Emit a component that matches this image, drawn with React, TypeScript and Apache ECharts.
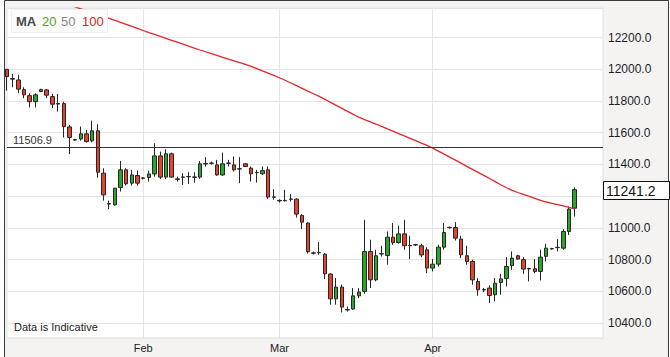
import React, { useEffect, useRef } from "react";
import * as echarts from "echarts";

// [open, close, low, high]
const candles: number[][] = [
  [12000, 11954, 11866, 12003],
  [11942, 11938, 11887, 11971],
  [11933, 11875, 11849, 11965],
  [11872, 11839, 11818, 11887],
  [11834, 11796, 11759, 11849],
  [11796, 11839, 11759, 11849],
  [11860, 11872, 11856, 11878],
  [11870, 11837, 11818, 11875],
  [11828, 11780, 11755, 11845],
  [11784, 11781, 11733, 11845],
  [11784, 11639, 11570, 11796],
  [11637, 11570, 11465, 11650],
  [11556, 11554, 11548, 11562],
  [11561, 11593, 11550, 11639],
  [11593, 11544, 11538, 11618],
  [11549, 11612, 11540, 11677],
  [11612, 11351, 11317, 11654],
  [11345, 11208, 11172, 11376],
  [11153, 11150, 11118, 11172],
  [11145, 11250, 11140, 11252],
  [11254, 11366, 11229, 11422],
  [11366, 11278, 11267, 11376],
  [11282, 11334, 11267, 11366],
  [11330, 11282, 11267, 11361],
  [11315, 11313, 11305, 11320],
  [11318, 11340, 11292, 11361],
  [11340, 11454, 11323, 11534],
  [11454, 11320, 11307, 11481],
  [11320, 11467, 11307, 11496],
  [11467, 11320, 11315, 11475],
  [11305, 11309, 11292, 11323],
  [11321, 11319, 11271, 11345],
  [11324, 11322, 11277, 11351],
  [11321, 11319, 11285, 11351],
  [11320, 11404, 11309, 11422],
  [11405, 11403, 11387, 11446],
  [11409, 11407, 11398, 11418],
  [11397, 11334, 11328, 11429],
  [11334, 11404, 11328, 11475],
  [11409, 11407, 11387, 11429],
  [11397, 11366, 11355, 11450],
  [11373, 11371, 11282, 11446],
  [11404, 11387, 11383, 11408],
  [11377, 11341, 11292, 11387],
  [11350, 11348, 11286, 11366],
  [11341, 11361, 11334, 11387],
  [11366, 11194, 11183, 11387],
  [11195, 11193, 11177, 11244],
  [11173, 11170, 11160, 11180],
  [11173, 11171, 11166, 11240],
  [11182, 11180, 11166, 11214],
  [11181, 11087, 11065, 11187],
  [11078, 11036, 10992, 11087],
  [11030, 10849, 10838, 11036],
  [10842, 10840, 10832, 10851],
  [10845, 10843, 10830, 10910],
  [10834, 10710, 10677, 10841],
  [10708, 10552, 10515, 10714],
  [10552, 10626, 10515, 10683],
  [10626, 10500, 10466, 10641],
  [10484, 10482, 10472, 10504],
  [10488, 10571, 10483, 10620],
  [10571, 10595, 10557, 10620],
  [10599, 10851, 10584, 11051],
  [10851, 10672, 10620, 10925],
  [10672, 10824, 10662, 10862],
  [10837, 10835, 10819, 10887],
  [10825, 10941, 10767, 10977],
  [10941, 10907, 10893, 11030],
  [10907, 10962, 10900, 11014],
  [10962, 10887, 10862, 11051],
  [10889, 10887, 10803, 10950],
  [10894, 10892, 10885, 10899],
  [10887, 10829, 10815, 10899],
  [10861, 10746, 10714, 10878],
  [10746, 10771, 10725, 10803],
  [10771, 10878, 10756, 10893],
  [10878, 10971, 10862, 11030],
  [11003, 11001, 10995, 11008],
  [11002, 10935, 10920, 11036],
  [10929, 10830, 10809, 10950],
  [10824, 10788, 10767, 10887],
  [10788, 10672, 10641, 10799],
  [10662, 10609, 10571, 10683],
  [10610, 10608, 10595, 10620],
  [10620, 10573, 10525, 10637],
  [10578, 10651, 10536, 10683],
  [10655, 10678, 10578, 10710],
  [10681, 10756, 10630, 10815],
  [10762, 10809, 10735, 10851],
  [10824, 10803, 10799, 10830],
  [10799, 10740, 10710, 10815],
  [10743, 10741, 10662, 10748],
  [10742, 10725, 10714, 10803],
  [10725, 10815, 10668, 10862],
  [10820, 10872, 10788, 10899],
  [10869, 10867, 10862, 10874],
  [10877, 10875, 10851, 10929],
  [10872, 10977, 10862, 10992],
  [10977, 11118, 10955, 11135],
  [11124, 11241.2, 11071, 11255],
];

const ma100: number[] = [
  12551, 12538, 12525, 12512, 12499, 12486, 12472, 12459, 12446, 12433,
  12420, 12407, 12394, 12381, 12370, 12359, 12348, 12335, 12322, 12309,
  12297, 12284, 12271, 12258, 12245, 12232, 12220, 12208, 12196, 12183,
  12171, 12159, 12147, 12134, 12122, 12111, 12099, 12088, 12076, 12065,
  12054, 12042, 12031, 12019, 12005, 11990, 11976, 11962, 11947, 11931,
  11914, 11897, 11880, 11863, 11846, 11829, 11811, 11792, 11773, 11754,
  11735, 11716, 11698, 11683, 11669, 11655, 11640, 11625, 11610, 11595,
  11580, 11565, 11550, 11535, 11520, 11503, 11484, 11465, 11446, 11427,
  11408, 11388, 11369, 11350, 11331, 11311, 11292, 11272, 11253, 11236,
  11223, 11211, 11198, 11186, 11173, 11163, 11155, 11147, 11139, 11129,
  11120,
];

const monthTicks: Record<number, string> = { 24: "Feb", 48: "Mar", 75: "Apr" };
const slotCount = 106;
const refLevel = 11506.9;
const lastPrice = 11241.2;
const legendItems = [
  { text: "MA", color: "#4a4a4a" },
  { text: "20", color: "#5f9e22" },
  { text: "50", color: "#8a8a8a" },
  { text: "100", color: "#d8251f" },
];
const footNote = "Data is Indicative";

const FONT = "'Liberation Sans', Arial, sans-serif";

export default function App() {
  const ref = useRef<HTMLDivElement>(null);

  useEffect(() => {
    if (!ref.current) return;
    const chart = echarts.init(ref.current, null, { renderer: "svg" });
    const cats = Array.from({ length: slotCount }, (_, i) => String(i));
    const isMonth = (i: number) => monthTicks[i] !== undefined;

    chart.setOption({
      animation: false,
      backgroundColor: "transparent",
      grid: {
        left: 7,
        top: 8,
        right: 67,
        bottom: 19,
        show: true,
        backgroundColor: "#ffffff",
        borderColor: "#e2e2e2",
        borderWidth: 1,
      },
      xAxis: {
        type: "category",
        data: cats,
        boundaryGap: false,
        axisLine: { show: false },
        axisTick: { show: false },
        axisLabel: {
          interval: (i: number) => isMonth(i),
          formatter: (_v: string, i: number) => monthTicks[i] ?? "",
          color: "#222",
          fontSize: 11,
          fontFamily: FONT,
          margin: 4,
        },
        splitLine: {
          show: true,
          interval: (i: number) => isMonth(i),
          lineStyle: { color: "#e4e4e4", width: 1 },
        },
      },
      yAxis: {
        type: "value",
        position: "right",
        min: 10305,
        max: 12387,
        splitNumber: 10,
        scale: true,
        axisLine: { show: false },
        axisTick: { show: false },
        axisLabel: {
          // the last-price box covers the tick label nearest to it
          formatter: (v: number) =>
            Math.abs(v - lastPrice) < 80 ? "" : v.toFixed(1),
          color: "#1e1e2a",
          fontSize: 12,
          fontFamily: FONT,
          margin: 5,
          showMinLabel: false,
          showMaxLabel: false,
        },
        splitLine: { show: true, lineStyle: { color: "#e4e4e4", width: 1 } },
      },
      series: [
        {
          type: "candlestick",
          data: candles,
          barWidth: 4,
          itemStyle: {
            color: "#2ba52b",
            color0: "#e4432d",
            borderColor: "#262626",
            borderColor0: "#262626",
            borderWidth: 1,
          },
          markLine: {
            silent: true,
            symbol: "none",
            lineStyle: { color: "#333", width: 1, type: "solid" },
            label: { show: false },
            data: [{ yAxis: refLevel }],
          },
        },
        {
          type: "line",
          data: ma100,
          symbol: "none",
          lineStyle: { color: "#e3262a", width: 1.3 },
        },
      ],
    });

    const yLast = chart.convertToPixel({ yAxisIndex: 0 }, lastPrice) as number;
    const yRef = chart.convertToPixel({ yAxisIndex: 0 }, refLevel) as number;

    const legendX = [16, 42, 61, 82];
    chart.setOption({
      graphic: [
        {
          type: "rect",
          z: -10,
          shape: { x: 4.5, y: 0.5, width: 664, height: 400 },
          style: { fill: "#f4f3f1", stroke: "#3a3a3a", lineWidth: 1 },
        },
        {
          type: "rect",
          z: 50,
          shape: { x: 11.5, y: 9.5, width: 96, height: 23 },
          style: { fill: "#fbfbfb", stroke: "#efefef", lineWidth: 1 },
        },
        ...legendItems.map((it, k) => ({
          type: "text",
          z: 51,
          x: legendX[k],
          y: 21,
          style: {
            text: it.text,
            fill: it.color,
            font: `${k === 0 ? "bold " : ""}13px ${FONT}`,
            verticalAlign: "middle",
          },
        })),
        {
          type: "text",
          z: 50,
          x: 13,
          y: yRef - 2,
          style: {
            text: refLevel.toFixed(1),
            fill: "#333",
            font: `11px ${FONT}`,
            verticalAlign: "bottom",
          },
        },
        {
          type: "text",
          z: 50,
          x: 14,
          y: 327,
          style: {
            text: footNote,
            fill: "#222",
            font: `11px ${FONT}`,
            verticalAlign: "middle",
          },
        },
        {
          type: "rect",
          z: 100,
          shape: { x: 603.5, y: Math.round(yLast) - 9 + 0.5, width: 66, height: 18 },
          style: { fill: "#ffffff", stroke: "#111", lineWidth: 1 },
        },
        {
          type: "text",
          z: 101,
          x: 606,
          y: Math.round(yLast) + 0.5,
          style: {
            text: lastPrice.toFixed(1),
            fill: "#111",
            font: `14px ${FONT}`,
            verticalAlign: "middle",
          },
        },
      ],
    });

    return () => chart.dispose();
  }, []);

  return (
    <div
      ref={ref}
      style={{ position: "absolute", left: 0, top: 0, width: 670, height: 357 }}
    />
  );
}
